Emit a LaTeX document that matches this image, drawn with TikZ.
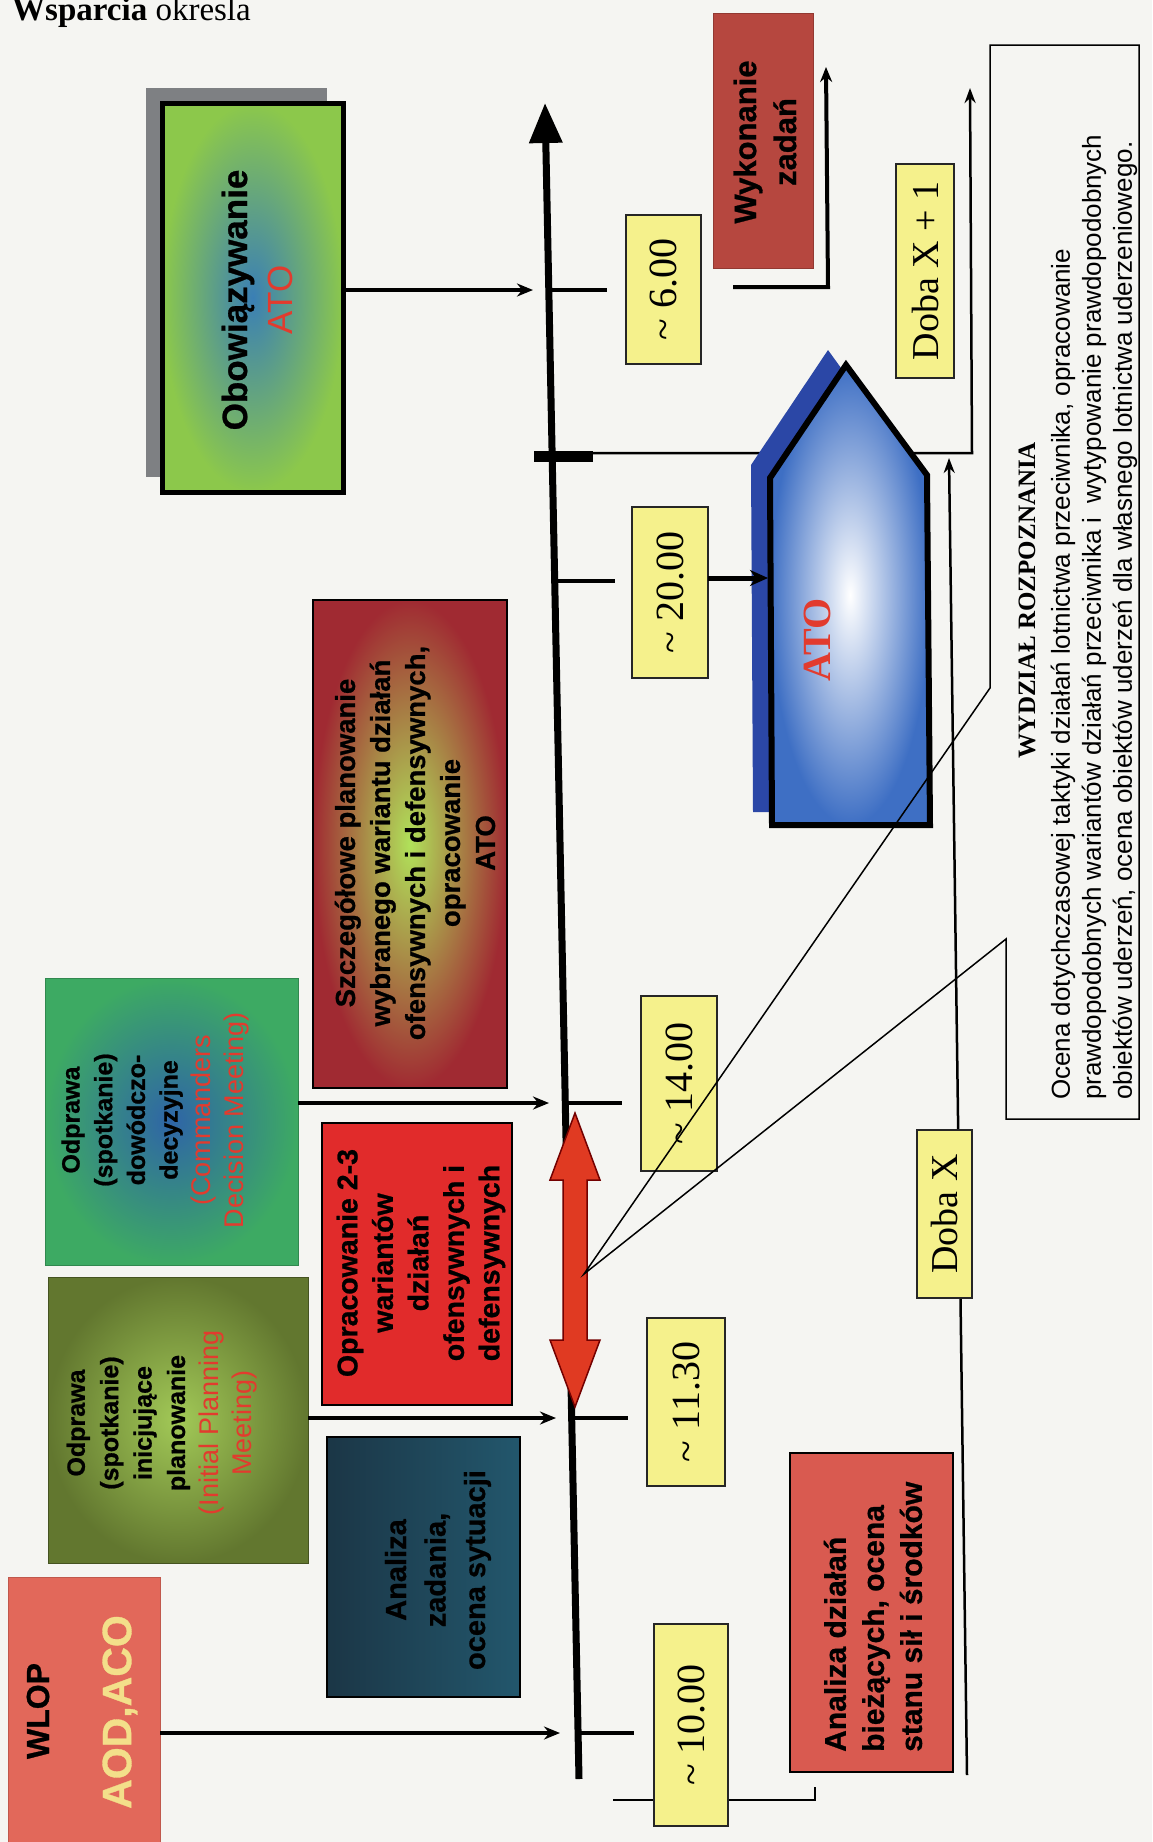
\documentclass[tikz,border=0pt]{standalone}
\usepackage{fontspec}
\usepackage{graphicx}
\setmainfont{Liberation Serif}
\setsansfont{Liberation Sans}[BoldFeatures={FakeBold=0.8}]
\newfontfamily\bodysans{Liberation Sans}
\usetikzlibrary{arrows.meta,calc}
\newcommand\setfs[2]{\fontsize{#1}{#2}\selectfont}

\definecolor{paper}{HTML}{F5F5F2}
\definecolor{obgreen}{HTML}{8CC84B}
\definecolor{obblue}{HTML}{3A7FB5}
\definecolor{shadowgray}{HTML}{7E8083}
\definecolor{wlopred}{HTML}{E2685A}
\definecolor{aodyellow}{HTML}{F3DF8A}
\definecolor{ipmdark}{HTML}{62772F}
\definecolor{ipmlight}{HTML}{A2C957}
\definecolor{cdmgreen}{HTML}{3DAA63}
\definecolor{cdmblue}{HTML}{2A4DBE}
\definecolor{txtred}{HTML}{E23B2E}
\definecolor{tealdark}{HTML}{1B3646}
\definecolor{teallight}{HTML}{2E88A6}
\definecolor{optred}{HTML}{E12B2B}
\definecolor{optdark}{HTML}{4E1A1C}
\definecolor{detred}{HTML}{A02A32}
\definecolor{detgreen}{HTML}{B0E25A}
\definecolor{execred}{HTML}{D8766A}
\definecolor{execdark}{HTML}{B6473F}
\definecolor{anared}{HTML}{D95A50}
\definecolor{atoblue}{HTML}{3E6FC4}
\definecolor{atoshadow}{HTML}{2B47A6}
\definecolor{timeyellow}{HTML}{F5F18C}
\definecolor{arrowred}{HTML}{E03A22}

\begin{document}
\begin{tikzpicture}[x=1pt,y=-1pt,
  panel/.style={draw=black, line width=1.8pt, inner sep=0pt, outer sep=0pt},
  vtext/.style={rotate=90, align=center, inner sep=0pt},
  clock/.style={draw=black!85, line width=1.2pt, fill=timeyellow, inner sep=0pt, outer sep=0pt, font=\setfs{40}{44}},
  feed/.style={line width=3.5pt, -{Stealth[length=16pt,width=13pt]}},
  tickmark/.style={line width=3.5pt},
  guide/.style={line width=2.5pt},
  guidearrow/.style={line width=2.5pt, -{Stealth[length=15pt,width=11pt]}},
  fanline/.style={line width=1.5pt},
]
\useasboundingbox (0,0) rectangle (1152,1842);
\fill[paper] (0,0) rectangle (1152,1842);

% running text of the page
\node[anchor=base west, inner sep=0pt, font=\setfs{33}{38}] (head) at (12,20) {\textbf{Wsparcia} okresla};

% ---------- time axis ----------
\coordinate (tlbot) at (579,1779);
\coordinate (tltop) at (545,103);
\coordinate (tl600) at (549,290);
\coordinate (tlbar) at (552,456);
\coordinate (tl2000) at (555,581);
\coordinate (tl1400) at (565,1103);
\coordinate (tl1130) at (572,1418);
\coordinate (tl1000) at (578,1733);
\draw[line width=7pt, -{Triangle[length=40pt,width=32pt]}] (tlbot) -- (tltop);
\draw[tickmark] (tl600) -- ++(58,0);
\draw[tickmark] (tl2000) -- ++(60,0);
\draw[tickmark] (tl1400) -- ++(57,0);
\draw[tickmark] (tl1130) -- ++(56,0);
\draw[tickmark] (tl1000) -- ++(56,0);
\draw[line width=11pt] ($(tlbar)+(-18,0)$) -- ($(tlbar)+(41,0)$);

% ---------- guide lines on the right ----------
\coordinate (dx1corner) at (972,453);
\coordinate (dx1tip) at (970,88);
\draw[guidearrow] ($(tlbar)+(41,-3)$) -- (dx1corner) -- (dx1tip);
\coordinate (dxfoot) at (967,1775);
\coordinate (dxtip) at (949,458);
\draw[guidearrow] (dxfoot) -- (dxtip);
\coordinate (execfoot) at (733,287);
\coordinate (execcorner) at (828,287);
\coordinate (exectip) at (826,67);
\draw[line width=4pt, -{Stealth[length=15pt,width=12pt]}] (execfoot) -- (execcorner) -- (exectip);
\coordinate (brkleft) at (613,1800);
\coordinate (brkcorner) at (815,1800);
\coordinate (brkup) at (815,1787);
\draw[guide] (brkleft) -- (brkcorner) -- (brkup);

% ---------- boxes on the left ----------
\fill[shadowgray] (146,88) rectangle (327,477);
\node[panel, line width=5pt, minimum width=181pt, minimum height=389pt,
      inner color=obblue, outer color=obgreen] (obow) at (252.5,297.5) {};
\node[panel, draw=wlopred!85!black, line width=0.8pt, fill=wlopred,
      minimum width=152pt, minimum height=273pt] (wlop) at (84,1713.5) {};
\node[panel, draw=ipmdark!70!black, line width=0.8pt, inner color=ipmlight, outer color=ipmdark,
      minimum width=260pt, minimum height=286pt] (ipm) at (178,1420) {};
\node[panel, draw=cdmgreen!80!black, line width=0.8pt, inner color=cdmblue!75!cdmgreen, outer color=cdmgreen,
      minimum width=253pt, minimum height=287pt] (cdm) at (171.5,1121.5) {};
\node[panel, left color=tealdark, middle color=teallight, right color=tealdark!60!teallight,
      minimum width=193pt, minimum height=260pt] (ana) at (423.5,1567) {};
\node[panel, left color=optred, middle color=optdark, right color=optred,
      minimum width=190pt, minimum height=282pt] (opt) at (417,1264) {};
\node[panel, inner color=detgreen, outer color=detred,
      minimum width=194pt, minimum height=488pt] (det) at (410,844) {};
\node[panel, draw=execdark!80!black, line width=1pt, left color=execdark, middle color=execred, right color=execdark,
      minimum width=100pt, minimum height=255pt] (exec) at (763,140.5) {};
\node[panel, fill=anared, minimum width=163pt, minimum height=319pt] (cur) at (871.5,1612.5) {};

% ---------- clock times and days ----------
\node[clock, minimum width=74pt, minimum height=202pt] (c1000) at (691,1725) {\rotatebox{90}{\textasciitilde{} 10.00}};
\node[clock, minimum width=78pt, minimum height=168pt] (c1130) at (686,1402) {\rotatebox{90}{\textasciitilde{} 11.30}};
\node[clock, minimum width=76pt, minimum height=175pt] (c1400) at (679,1083.5) {\rotatebox{90}{\textasciitilde{} 14.00}};
\node[clock, minimum width=76pt, minimum height=171pt] (c2000) at (670,592.5) {\rotatebox{90}{\textasciitilde{} 20.00}};
\node[clock, minimum width=75pt, minimum height=149pt] (c600) at (663.5,289.5) {\rotatebox{90}{\textasciitilde{} 6.00}};
\node[clock, font=\setfs{38}{42}, minimum width=58pt, minimum height=214pt] (dayx1) at (925,271) {\rotatebox{90}{Doba X + 1}};
\node[clock, font=\setfs{38}{42}, minimum width=55pt, minimum height=168pt] (dayx) at (944.5,1214) {\rotatebox{90}{Doba X}};

% ---------- ATO document ----------
\fill[atoshadow] (753,812) -- (751,465) -- (828,350) -- (909,462) -- (911,812) -- cycle;
\path[draw=black, line width=6pt, line join=miter, inner color=white, outer color=atoblue]
  (772,825) -- (770,478) -- (846,365) -- (927,475) -- (930,825) -- cycle;
\coordinate (atoin) at (768,578);
\node[vtext, font=\bfseries\setfs{40}{44}, text=txtred] (atotxt) at (817,640) {ATO};
\draw[line width=5pt, -{Stealth[length=18pt,width=16pt]}] (c2000.east |- atoin) -- (atoin);

% ---------- planning window ----------
\fill[arrowred, draw=red!45!black, line width=1.5pt]
  (575,1113) -- (600,1180) -- (587,1180) -- (587,1340) -- (600,1340) -- (575,1407)
  -- (550,1340) -- (563,1340) -- (563,1180) -- (550,1180) -- cycle;

% ---------- feeds into the axis ----------
\draw[feed] (obow.east |- tl600) -- ($(tl600)+(-16,0)$);
\draw[feed] (cdm.east |- tl1400) -- ($(tl1400)+(-16,0)$);
\draw[feed] (ipm.east |- tl1130) -- ($(tl1130)+(-16,0)$);
\draw[feed] (wlop.east |- tl1000) -- ($(tl1000)+(-18,0)$);

% ---------- intelligence call-out ----------
\coordinate (fanO) at (584,1274);
\draw[fanline] (990,45) -- (1139,45) -- (1139,1119) -- (1006,1119) -- (1006,939)
  -- (fanO) -- (990,688) -- cycle;

% ---------- texts ----------
\node[vtext, font=\sffamily\bfseries\setfs{35}{45}] (obowtxt) at (257,300)
  {Obowiązywanie\\{\mdseries\color{txtred}ATO}};
\node[vtext, font=\sffamily\bfseries\setfs{32}{40}] (wloptxt) at (38,1711) {WLOP};
\node[vtext, font=\sffamily\bfseries\setfs{41}{48}, text=aodyellow] (aodtxt) at (120,1712) {AOD,ACO};
\node[vtext, font=\sffamily\bfseries\setfs{25}{33.4}] (ipmtxt) at (162,1423)
  {Odprawa\\(spotkanie)\\inicjujące\\planowanie\\{\mdseries\setfs{27}{33.4}\color{txtred}(Initial Planning}\\{\mdseries\setfs{27}{33.4}\color{txtred}Meeting)}};
\node[vtext, font=\sffamily\bfseries\setfs{25}{32.7}] (cdmtxt) at (155,1120)
  {Odprawa\\(spotkanie)\\dowódczo-\\decyzyjne\\{\mdseries\setfs{27}{32.7}\color{txtred}(Commanders}\\{\mdseries\setfs{27}{32.7}\color{txtred}Decision Meeting)}};
\node[vtext, font=\sffamily\bfseries\setfs{29}{39.5}] (anatxt) at (438,1570)
  {Analiza\\zadania,\\ocena sytuacji};
\node[vtext, font=\sffamily\bfseries\setfs{28.5}{35.5}] (opttxt) at (421,1263)
  {Opracowanie 2-3\\wariantów\\działań\\ofensywnych i\\defensywnych};
\node[vtext, font=\sffamily\bfseries\setfs{27.5}{35}] (dettxt) at (415,843)
  {Szczegółowe planowanie\\wybranego wariantu działań\\ofensywnych i defensywnych,\\opracowanie\\ATO};
\node[vtext, font=\sffamily\bfseries\setfs{31}{40}] (exectxt) at (765,142)
  {Wykonanie\\zadań};
\node[vtext, anchor=west, align=left, font=\sffamily\bfseries\setfs{30}{38}] (curtxt) at (873,1752)
  {Analiza działań\\bieżących, ocena\\stanu sił i środków};
\node[vtext, font=\bfseries\setfs{25}{30}] (rozptitle) at (1027,600) {WYDZIAŁ ROZPOZNANIA};
\node[vtext, anchor=west, align=left, font=\bodysans\setfs{26}{31}] (rozpbody) at (1094,1100)
  {Ocena dotychczasowej taktyki działań lotnictwa przeciwnika, opracowanie\\
   prawdopodobnych wariantów działań przeciwnika i\ \ wytypowanie prawdopodobnych\\
   obiektów uderzeń, ocena obiektów uderzeń dla własnego lotnictwa uderzeniowego.};
\end{tikzpicture}
\end{document}
